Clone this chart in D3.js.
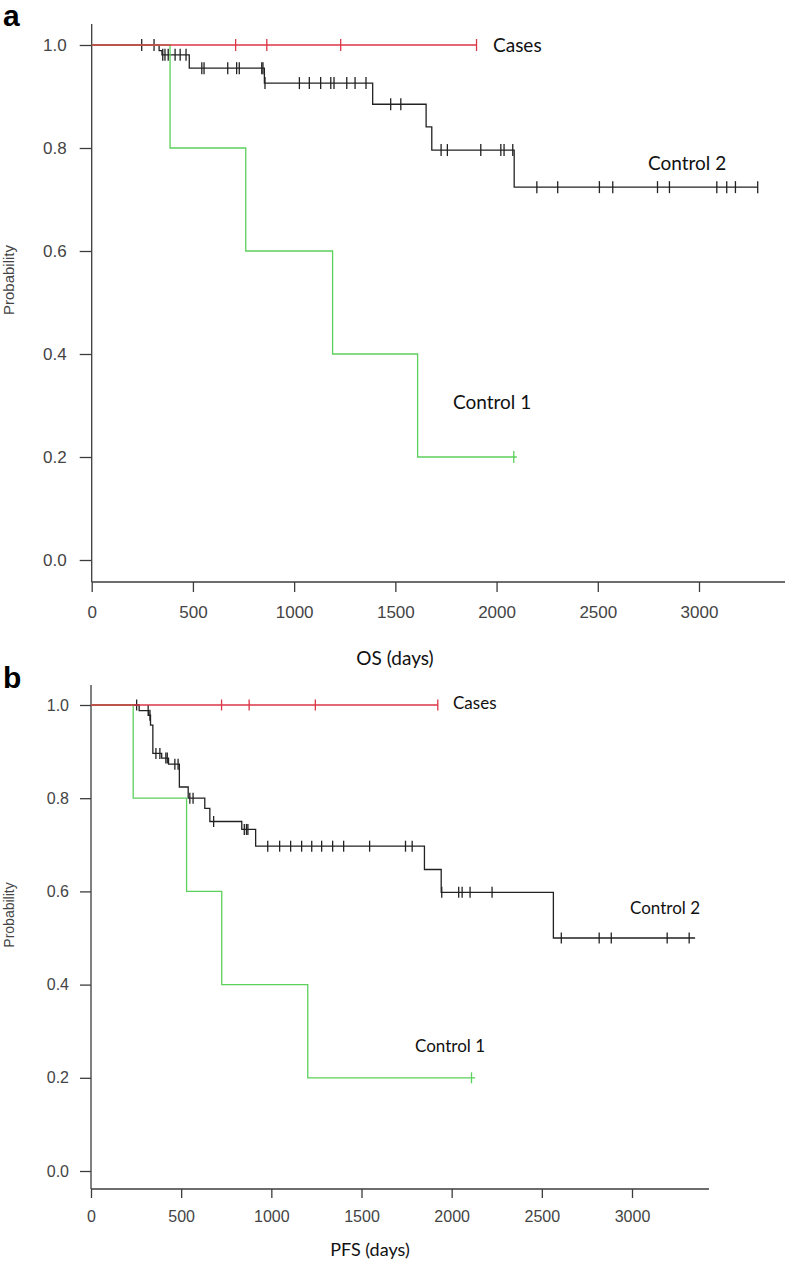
<!DOCTYPE html>
<html><head><meta charset="utf-8">
<script src="https://cdn.jsdelivr.net/npm/d3@7/dist/d3.min.js"></script>
<style>
body{margin:0;background:#fff;}
svg{display:block;}
</style></head>
<body>
<svg id="chart" width="788" height="1266"></svg>
<script>
// ---------- DATA ----------
const xTicks = [0, 500, 1000, 1500, 2000, 2500, 3000];
const yTicks = [0.0, 0.2, 0.4, 0.6, 0.8, 1.0];

// Panel a (OS)
const casesA_times = [0];
const casesA_surv = [1.0];
const casesA_end = 1901;
const casesA_censor = [711, 865, 1230, 1901];

const ctrl1A_times = [0, 387, 761, 1190, 1610];
const ctrl1A_surv = [1.0, 0.8, 0.6, 0.4, 0.2];
const ctrl1A_end = 2100;
const ctrl1A_censor = [2085];

const ctrl2A_times = [0, 333, 347, 482, 853, 1388, 1652, 1680, 2087];
const ctrl2A_surv = [1.0, 0.989, 0.981, 0.955, 0.926, 0.885, 0.841, 0.796, 0.724];
const ctrl2A_end = 3290;
const ctrl2A_censor = [247, 308, 351, 362, 378, 412, 437, 466, 544, 555, 672, 716, 729, 840, 846, 856,
  1026, 1075, 1131, 1181, 1197, 1260, 1301, 1355, 1477, 1527, 1726, 1757, 1922, 2021, 2037, 2080,
  2199, 2302, 2508, 2574, 2795, 2854, 3088, 3137, 3180, 3290];

// Panel b (PFS)
const casesB_times = [0];
const casesB_surv = [1.0];
const casesB_end = 1923;
const casesB_censor = [724, 877, 1244, 1923];

const ctrl1B_times = [0, 234, 530, 725, 1202];
const ctrl1B_surv = [1.0, 0.8, 0.6, 0.4, 0.2];
const ctrl1B_end = 2130;
const ctrl1B_censor = [2110];

const ctrl2B_times = [0, 267, 320, 330, 343, 392, 430, 490, 539, 631, 659, 836, 913, 1849, 1942, 2564];
const ctrl2B_surv = [1.0, 0.988, 0.978, 0.957, 0.896, 0.886, 0.873, 0.824, 0.80, 0.778, 0.75, 0.733, 0.697, 0.647, 0.598, 0.5];
const ctrl2B_end = 3350;
const ctrl2B_censor = [253, 317, 327, 360, 382, 415, 423, 465, 483, 548, 566, 680, 850, 862, 870,
  980, 1046, 1107, 1168, 1224, 1279, 1340, 1401, 1545, 1744, 1781, 1945, 2039, 2058, 2102, 2224,
  2608, 2818, 2885, 3195, 3317];

// ---------- DRAW ----------
const svg = d3.select("#chart");
const COL = {cases: "#dc3545", c1: "#5cd05c", c2: "#222222", axis: "#3c3c3c", text: "#444"};
const labelFont = "Lato, 'Open Sans', sans-serif";
const tickFont = "'Liberation Sans', Arial, sans-serif";

function panel(cfg) {
  const g = svg.append("g");
  const x = d3.scaleLinear().domain([0, 3000]).range(cfg.xr);
  const y = d3.scaleLinear().domain([0, 1]).range(cfg.yr);

  // axis lines
  g.append("line").attr("x1", x(0)).attr("x2", x(0)).attr("y1", cfg.yTop).attr("y2", cfg.xAxisY)
    .attr("stroke", COL.axis).attr("stroke-width", 1.3);
  g.append("line").attr("x1", x(0)).attr("x2", cfg.xEnd).attr("y1", cfg.xAxisY).attr("y2", cfg.xAxisY)
    .attr("stroke", COL.axis).attr("stroke-width", 1.3);

  const ya = d3.axisLeft(y).tickValues(yTicks).tickFormat(d3.format(".1f"))
    .tickSize(cfg.yTickLen).tickPadding(cfg.yPad);
  const yg = g.append("g").attr("transform", `translate(${x(0)},0)`).call(ya);
  yg.select(".domain").remove();
  yg.selectAll("line").attr("stroke", COL.axis).attr("stroke-width", 1.3);
  yg.selectAll("text").attr("fill", COL.text).style("font-family", tickFont).style("font-size", cfg.yFont + "px");

  const xa = d3.axisBottom(x).tickValues(xTicks).tickFormat(d3.format("d"))
    .tickSize(cfg.xTickLen).tickPadding(cfg.xPad);
  const xg = g.append("g").attr("transform", `translate(0,${cfg.xAxisY})`).call(xa);
  xg.select(".domain").remove();
  xg.selectAll("line").attr("stroke", COL.axis).attr("stroke-width", 1.3);
  xg.selectAll("text").attr("fill", COL.text).style("font-family", tickFont).style("font-size", cfg.xFont + "px");

  // axis titles
  g.append("text").attr("x", cfg.xTitle[0]).attr("y", cfg.xTitle[1]).attr("text-anchor", "middle")
    .style("font-family", labelFont).style("font-size", cfg.titleFont + "px").attr("fill", "#111").text(cfg.xLabel);
  g.append("text").attr("transform", `translate(${cfg.yTitle[0]},${cfg.yTitle[1]}) rotate(-90)`)
    .attr("text-anchor", "middle")
    .style("font-family", "'Liberation Sans Narrow', 'Arial Narrow', 'Liberation Sans', sans-serif")
    .style("font-size", cfg.yTitleFont + "px").attr("fill", COL.text).text("Probability");

  // panel letter
  g.append("text").attr("x", cfg.letter[0]).attr("y", cfg.letter[1])
    .style("font-family", "'Liberation Sans', Arial, sans-serif").style("font-weight", "bold")
    .style("font-size", "30px").attr("fill", "#000").text(cfg.letterText);

  const line = d3.line().x(d => x(d[0])).y(d => y(d[1])).curve(d3.curveStepAfter);

  function curve(times, surv, end, censor, color) {
    const pts = times.map((t, i) => [t, surv[i]]);
    pts.push([end, surv[surv.length - 1]]);
    g.append("path").attr("d", line(pts)).attr("fill", "none").attr("stroke", color).attr("stroke-width", 1.3);
    censor.forEach(t => {
      const i = d3.bisectRight(times, t) - 1;
      const s = surv[Math.max(0, i)];
      g.append("line").attr("x1", x(t)).attr("x2", x(t))
        .attr("y1", y(s) - cfg.cLen / 2).attr("y2", y(s) + cfg.cLen / 2)
        .attr("stroke", color).attr("stroke-width", 1.3);
    });
  }
  cfg.series.forEach(s => curve(...s));

  cfg.labels.forEach(l => {
    g.append("text").attr("x", l[0]).attr("y", l[1]).style("font-family", labelFont)
      .style("font-size", cfg.labelFont + "px").attr("fill", "#111").text(l[2]);
  });
}

panel({
  xr: [91.7, 699], yr: [560, 45], yTop: 24, xAxisY: 582, xEnd: 785,
  yTickLen: 12, yPad: 13, yFont: 17, xTickLen: 10, xPad: 14, xFont: 17,
  xLabel: "OS (days)", xTitle: [395, 665], titleFont: 19,
  yTitle: [14, 280], yTitleFont: 15,
  letter: [3, 26], letterText: "a", cLen: 12, labelFont: 19,
  series: [
    [ctrl2A_times, ctrl2A_surv, ctrl2A_end, ctrl2A_censor, COL.c2],
    [ctrl1A_times, ctrl1A_surv, ctrl1A_end, ctrl1A_censor, COL.c1],
    [casesA_times, casesA_surv, casesA_end, casesA_censor, COL.cases]
  ],
  labels: [[493, 52, "Cases"], [648, 170, "Control 2"], [453, 409, "Control 1"]]
});

panel({
  xr: [91, 632], yr: [1171, 705], yTop: 685, xAxisY: 1189, xEnd: 709,
  yTickLen: 11, yPad: 11, yFont: 16, xTickLen: 9, xPad: 13, xFont: 16,
  xLabel: "PFS (days)", xTitle: [370, 1256], titleFont: 18,
  yTitle: [14, 915], yTitleFont: 14,
  letter: [3, 688], letterText: "b", cLen: 11, labelFont: 17,
  series: [
    [ctrl2B_times, ctrl2B_surv, ctrl2B_end, ctrl2B_censor, COL.c2],
    [ctrl1B_times, ctrl1B_surv, ctrl1B_end, ctrl1B_censor, COL.c1],
    [casesB_times, casesB_surv, casesB_end, casesB_censor, COL.cases]
  ],
  labels: [[453, 709, "Cases"], [630, 914, "Control 2"], [415, 1052, "Control 1"]]
});
</script>
</body></html>
